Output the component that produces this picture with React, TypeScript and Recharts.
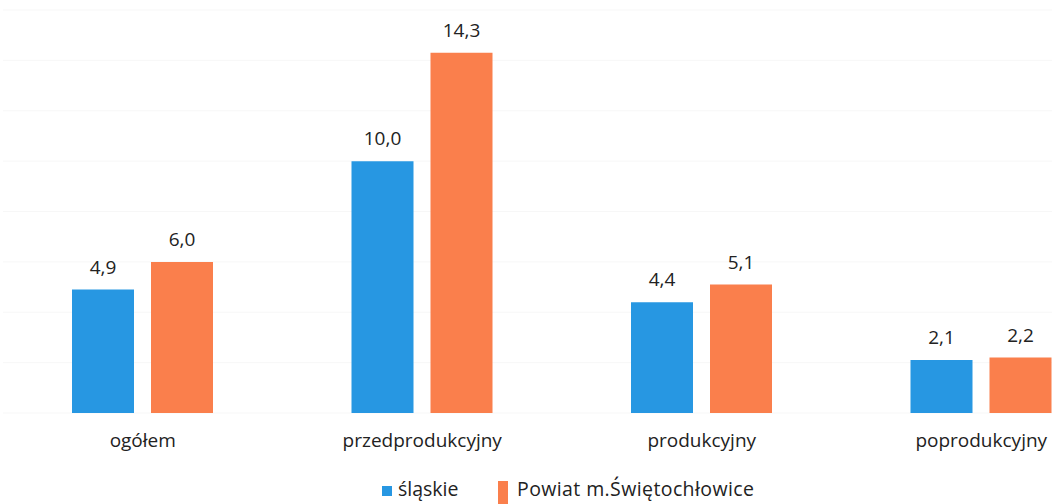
import React from "react";
import { BarChart, Bar, XAxis, YAxis, CartesianGrid, LabelList, Legend } from "recharts";

const categories = ["ogółem", "przedprodukcyjny", "produkcyjny", "poprodukcyjny"];
const slaskie = [4.9, 10.0, 4.4, 2.1];
const powiat = [6.0, 14.3, 5.1, 2.2];
const seriesNames = ["śląskie", "Powiat m.Świętochłowice"];
const yTicks = [0, 2, 4, 6, 8, 10, 12, 14, 16];

const BLUE = "#2797e2";
const ORANGE = "#fa7f4c";
const FONT = "'Open Sans', sans-serif";

const data = categories.map((c, i) => ({ name: c, a: slaskie[i], b: powiat[i] }));

const fmt = (v: any) => Number(v).toFixed(1).replace(".", ",");

const LegendContent = () => (
  <div style={{ position: "relative", width: 1125, height: 24, fontFamily: FONT, fontSize: 19.5, color: "#222" }}>
    <span style={{ position: "absolute", left: 382, top: 6, width: 10, height: 10, background: BLUE }} />
    <span style={{ position: "absolute", left: 398, top: -4, lineHeight: "26px" }}>{seriesNames[0]}</span>
    <span style={{ position: "absolute", left: 498, top: 1, width: 10, height: 24, background: ORANGE }} />
    <span style={{ position: "absolute", left: 517, top: -4, lineHeight: "26px", whiteSpace: "nowrap", letterSpacing: "0.4px" }}>{seriesNames[1]}</span>
  </div>
);

export default function App() {
  return (
    <div style={{ position: "absolute", left: 0, top: 0, width: 1052, height: 504, overflow: "hidden", background: "#fff" }}>
      <BarChart
        width={1125}
        height={504}
        data={data}
        margin={{ top: 10, right: 4, left: 3, bottom: 37 }}
        barGap={17}
      >
        <CartesianGrid vertical={false} stroke="#f7f7f7" />
        <XAxis
          dataKey="name"
          axisLine={false}
          tickLine={false}
          tickSize={0}
          tickMargin={21}
          height={30}
          tick={{ fontFamily: FONT, fontSize: 19, fill: "#222" }}
        />
        <YAxis hide domain={[0, 16]} ticks={yTicks} />
        <Legend verticalAlign="bottom" content={LegendContent} wrapperStyle={{ left: 0, bottom: 0, width: 1125, height: 24 }} />
        <Bar dataKey="a" name={seriesNames[0]} fill={BLUE} barSize={62} isAnimationActive={false}>
          <LabelList dataKey="a" position="top" offset={16} formatter={fmt} style={{ fontFamily: FONT, fontSize: 19, fill: "#222" }} />
        </Bar>
        <Bar dataKey="b" name={seriesNames[1]} fill={ORANGE} barSize={62} isAnimationActive={false}>
          <LabelList dataKey="b" position="top" offset={16} formatter={fmt} style={{ fontFamily: FONT, fontSize: 19, fill: "#222" }} />
        </Bar>
      </BarChart>
    </div>
  );
}
